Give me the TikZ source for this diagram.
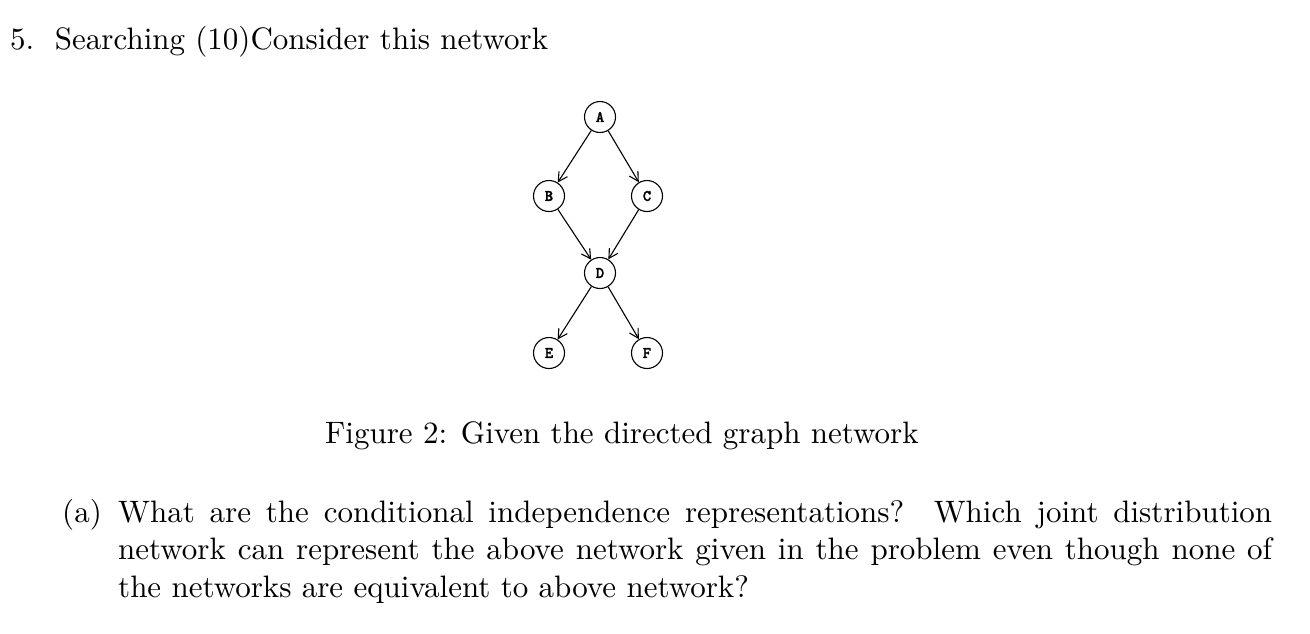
\documentclass[tikz,border=0pt]{standalone}
\usepackage{fontspec}
\setmainfont{lmroman10-regular}[Extension=.otf, BoldFont=lmroman10-bold, ItalicFont=lmroman10-italic]
\newfontfamily\nodefont{lmmonolt10-bold}[Extension=.otf, FakeBold=1.5]
\usetikzlibrary{arrows.meta}
\tikzset{
  vnode/.style={circle, draw, line width=1.1pt, minimum size=31pt, inner sep=0pt, font=\nodefont\fontsize{16}{16}\selectfont},
  edge/.style={line width=1.1pt, -{Straight Barb[length=9pt,width=10pt,line width=1.1pt]}},
  txt/.style={inner sep=0pt, anchor=base west, font=\fontsize{31}{37.5}\selectfont}
}
\begin{document}
\begin{tikzpicture}[x=1pt,y=-1pt]
\useasboundingbox (0,0) rectangle (1310,633);
\node[txt] (title) at (10,49) {5.\ \ Searching (10)Consider this network};
\node[vnode] (A) at (600,117) {A};
\node[vnode] (B) at (549,196) {B};
\node[vnode] (C) at (647,196) {C};
\node[vnode] (D) at (600,273) {D};
\node[vnode] (E) at (549,353) {E};
\node[vnode] (F) at (647,353) {F};
\draw[edge] (A) -- (B);
\draw[edge] (A) -- (C);
\draw[edge] (B) -- (D);
\draw[edge] (C) -- (D);
\draw[edge] (D) -- (E);
\draw[edge] (D) -- (F);
\node[txt] (cap) at (325,443) {Figure 2: Given the directed graph network};
\node[txt] (lab) at (62,522) {(a)};
\node[txt] (par) at (118,522) {\vtop{\hsize=1154pt\parindent=0pt\fontsize{31}{37.5}\selectfont What are the conditional independence representations?\ \ Which joint distribution network can represent the above network given in the problem even though none of the networks are equivalent to above network?}};
\end{tikzpicture}
\end{document}
